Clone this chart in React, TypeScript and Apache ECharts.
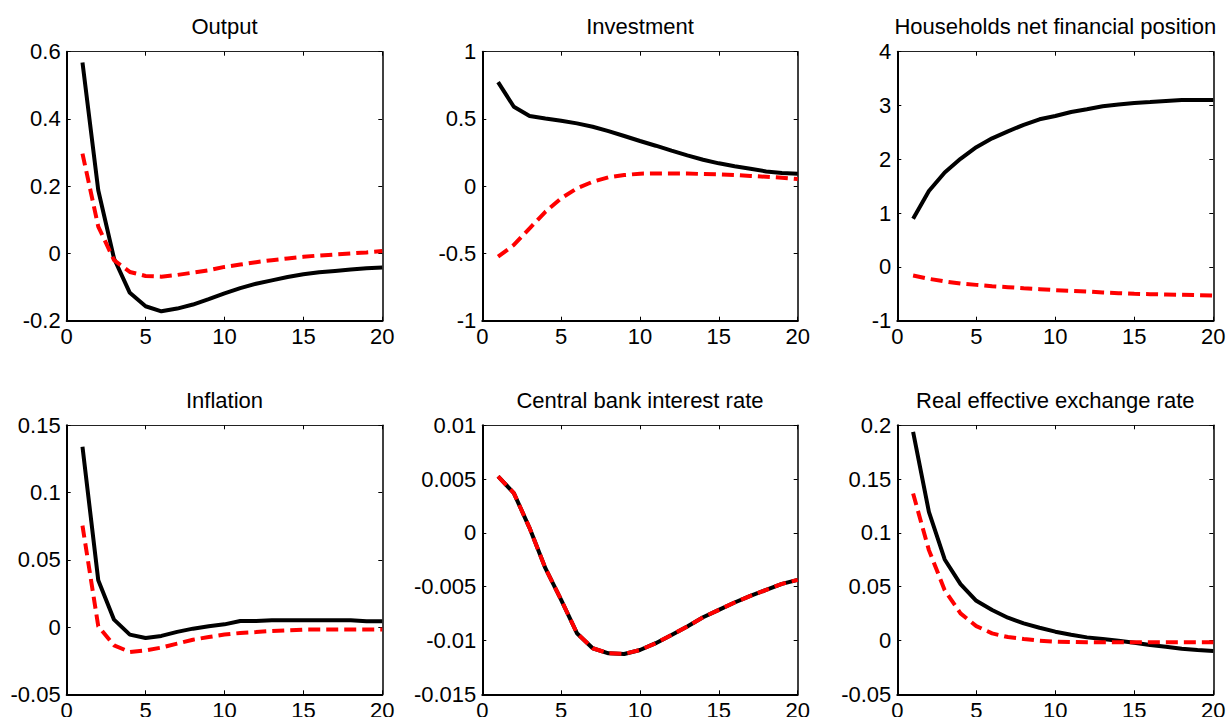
import React, { useEffect, useRef } from "react";
import * as echarts from "echarts";

const periods = [1, 2, 3, 4, 5, 6, 7, 8, 9, 10, 11, 12, 13, 14, 15, 16, 17, 18, 19, 20];

const titles = [
  "Output",
  "Investment",
  "Households net financial position",
  "Inflation",
  "Central bank interest rate",
  "Real effective exchange rate",
];

const outputBase = [0.568, 0.188, -0.015, -0.117, -0.157, -0.172, -0.164, -0.152, -0.136, -0.119, -0.103, -0.090, -0.080, -0.070, -0.062, -0.056, -0.052, -0.048, -0.044, -0.042];
const outputAlt = [0.297, 0.080, -0.020, -0.055, -0.067, -0.069, -0.064, -0.057, -0.050, -0.040, -0.033, -0.026, -0.020, -0.015, -0.010, -0.006, -0.003, 0.000, 0.003, 0.007];

const investmentBase = [0.774, 0.591, 0.522, 0.504, 0.487, 0.467, 0.442, 0.410, 0.373, 0.336, 0.301, 0.264, 0.229, 0.197, 0.170, 0.148, 0.130, 0.110, 0.098, 0.093];
const investmentAlt = [-0.524, -0.437, -0.313, -0.190, -0.090, -0.016, 0.033, 0.066, 0.083, 0.093, 0.095, 0.095, 0.095, 0.090, 0.088, 0.083, 0.076, 0.070, 0.063, 0.053];

const householdsBase = [0.896, 1.41, 1.755, 2.01, 2.225, 2.39, 2.52, 2.64, 2.744, 2.806, 2.88, 2.93, 2.985, 3.02, 3.047, 3.065, 3.084, 3.1, 3.1, 3.1];
const householdsAlt = [-0.16, -0.222, -0.27, -0.31, -0.334, -0.358, -0.377, -0.396, -0.414, -0.433, -0.445, -0.457, -0.476, -0.488, -0.5, -0.507, -0.513, -0.519, -0.525, -0.532];

const inflationBase = [0.134, 0.0348, 0.0055, -0.0056, -0.0081, -0.0066, -0.0036, -0.0012, 0.0006, 0.002, 0.0045, 0.0045, 0.005, 0.005, 0.005, 0.005, 0.005, 0.005, 0.0043, 0.0043];
const inflationAlt = [0.0754, 0.0006, -0.0136, -0.0185, -0.0173, -0.0153, -0.0123, -0.0094, -0.0074, -0.0056, -0.0044, -0.0037, -0.0029, -0.0024, -0.0019, -0.0019, -0.0019, -0.0019, -0.0019, -0.0019];

const rateBase = [0.00525, 0.0037, 0.00045, -0.00328, -0.00622, -0.00932, -0.01072, -0.01119, -0.01125, -0.01088, -0.01025, -0.00948, -0.0087, -0.00784, -0.00715, -0.00647, -0.00585, -0.0053, -0.00474, -0.00436];
const rateAlt = [0.00525, 0.0037, 0.00045, -0.00328, -0.00622, -0.00932, -0.01072, -0.01119, -0.01125, -0.01088, -0.01025, -0.00948, -0.0087, -0.00784, -0.00715, -0.00647, -0.00585, -0.0053, -0.00474, -0.00436];

const reerBase = [0.1938, 0.1196, 0.0753, 0.0524, 0.0369, 0.0283, 0.0212, 0.0159, 0.0119, 0.0082, 0.0054, 0.0029, 0.0014, -0.0002, -0.002, -0.0042, -0.0058, -0.0076, -0.0088, -0.0098];
const reerAlt = [0.1366, 0.084, 0.0468, 0.0252, 0.0134, 0.0066, 0.0032, 0.0014, -0.0002, -0.0011, -0.0014, -0.0017, -0.0017, -0.0017, -0.0017, -0.0017, -0.0017, -0.0017, -0.0017, -0.0017];

const yMins = [-0.2, -1, -1, -0.05, -0.015, -0.05];
const yMaxs = [0.6, 1, 4, 0.15, 0.01, 0.2];
const yIntervals = [0.2, 0.5, 1, 0.05, 0.005, 0.05];

const baseSeries = [outputBase, investmentBase, householdsBase, inflationBase, rateBase, reerBase];
const altSeries = [outputAlt, investmentAlt, householdsAlt, inflationAlt, rateAlt, reerAlt];

const FONT = "'Liberation Sans', Arial, Helvetica, sans-serif";

export default function App() {
  const ref = useRef<HTMLDivElement>(null);

  useEffect(() => {
    if (!ref.current) return;
    const chart = echarts.init(ref.current, null, { renderer: "svg" });

    const lefts = [66.7, 482.3, 897.3];
    const widths = [315.6, 315.4, 316];
    const tops = [51.7, 425.3];
    const height = 269;
    const titleY = [26.3, 400.8];

    const grids: any[] = [];
    const xAxes: any[] = [];
    const yAxes: any[] = [];
    const series: any[] = [];
    const graphics: any[] = [];

    const fmt = (v: number) => String(parseFloat(v.toFixed(6)));

    for (let i = 0; i < 6; i++) {
      const col = i % 3;
      const row = Math.floor(i / 3);
      grids.push({
        left: lefts[col],
        top: tops[row],
        width: widths[col],
        height,
        containLabel: false,
        outerBoundsMode: "none",
        show: false,
      });
      xAxes.push({
        type: "value",
        gridIndex: i,
        min: 0,
        max: 20,
        interval: 5,
        position: "bottom",
        axisLine: { show: true, onZero: false, lineStyle: { color: "#000", width: 2 } },
        axisTick: { show: true, inside: true, length: 4, lineStyle: { color: "#000", width: 1 } },
        axisLabel: { show: true, margin: 5, color: "#000", fontSize: 22, fontFamily: FONT, formatter: fmt },
        splitLine: { show: false },
      });
      xAxes.push({
        type: "value",
        gridIndex: i,
        min: 0,
        max: 20,
        interval: 5,
        position: "top",
        axisLine: { show: true, onZero: false, lineStyle: { color: "#222", width: 1 } },
        axisTick: { show: true, inside: true, length: 4, lineStyle: { color: "#000", width: 1 } },
        axisLabel: { show: false },
        splitLine: { show: false },
      });
      yAxes.push({
        type: "value",
        gridIndex: i,
        min: yMins[i],
        max: yMaxs[i],
        interval: yIntervals[i],
        position: "left",
        axisLine: { show: true, onZero: false, lineStyle: { color: "#000", width: 2 } },
        axisTick: { show: true, inside: true, length: 4, lineStyle: { color: "#000", width: 1 } },
        axisLabel: { show: true, margin: 6, color: "#000", fontSize: 22, fontFamily: FONT, formatter: fmt },
        splitLine: { show: false },
      });
      yAxes.push({
        type: "value",
        gridIndex: i,
        min: yMins[i],
        max: yMaxs[i],
        interval: yIntervals[i],
        position: "right",
        axisLine: { show: true, onZero: false, lineStyle: { color: "#000", width: 1.5 } },
        axisTick: { show: true, inside: true, length: 4, lineStyle: { color: "#000", width: 1 } },
        axisLabel: { show: false },
        splitLine: { show: false },
      });

      series.push({
        type: "line",
        xAxisIndex: i * 2,
        yAxisIndex: i * 2,
        data: periods.map((p, k) => [p, baseSeries[i][k]]),
        showSymbol: false,
        symbol: "none",
        lineStyle: { color: "#000", width: 4, type: "solid" },
        z: 2,
      });
      series.push({
        type: "line",
        xAxisIndex: i * 2,
        yAxisIndex: i * 2,
        data: periods.map((p, k) => [p, altSeries[i][k]]),
        showSymbol: false,
        symbol: "none",
        lineStyle: { color: "#ff0000", width: 4, type: [12, 6], cap: "butt" },
        z: 3,
      });

      graphics.push({
        type: "text",
        x: lefts[col] + widths[col] / 2,
        y: titleY[row],
        style: {
          text: titles[i],
          fill: "#000",
          fontSize: 22,
          fontFamily: FONT,
          align: "center",
          verticalAlign: "middle",
        },
      });
    }

    chart.setOption({
      animation: false,
      backgroundColor: "#fff",
      grid: grids,
      xAxis: xAxes,
      yAxis: yAxes,
      series,
      graphic: graphics,
    });

    return () => chart.dispose();
  }, []);

  return (
    <div
      ref={ref}
      style={{ position: "fixed", left: 0, top: 0, width: 1229, height: 717, background: "#fff" }}
    />
  );
}
